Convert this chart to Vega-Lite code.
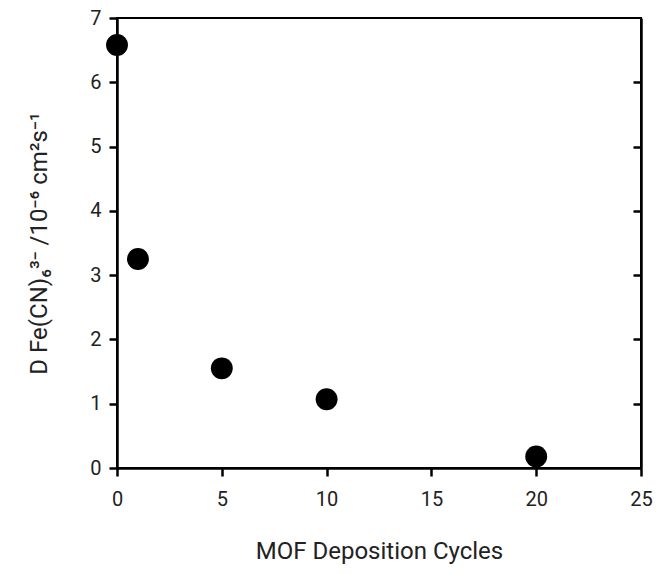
{
  "$schema": "https://vega.github.io/schema/vega-lite/v6.json",
  "width": 524,
  "height": 450,
  "autosize": {"type": "none"},
  "padding": {"left": 117, "top": 18, "right": 18, "bottom": 106},
  "background": "white",
  "config": {
    "font": "Roboto",
    "view": {"stroke": "black", "strokeWidth": 2},
    "axis": {
      "domainColor": "black", "domainWidth": 2.5,
      "tickColor": "black", "tickWidth": 2.5, "tickSize": 8,
      "labelColor": "#222", "labelFont": "Roboto", "labelFontSize": 20, "labelFlush": false,
      "titleColor": "#222", "titleFont": "Roboto", "titleFontSize": 24, "titleFontWeight": "normal",
      "grid": false
    }
  },
  "data": {"values": [
    {"cycles": 0, "D": 6.58},
    {"cycles": 1, "D": 3.25},
    {"cycles": 5, "D": 1.55},
    {"cycles": 10, "D": 1.07},
    {"cycles": 20, "D": 0.18}
  ]},
  "resolve": {"axis": {"y": "independent"}},
  "layer": [
    {
      "mark": {"type": "point", "filled": true, "color": "black", "opacity": 1, "size": 480},
      "encoding": {
        "x": {"field": "cycles", "type": "quantitative",
              "scale": {"domain": [0, 25], "nice": false},
              "axis": {"values": [0, 5, 10, 15, 20, 25], "title": "MOF Deposition Cycles", "labelPadding": 13, "titlePadding": 30}},
        "y": {"field": "D", "type": "quantitative",
              "scale": {"domain": [0, 7], "nice": false},
              "axis": {"values": [0, 1, 2, 3, 4, 5, 6, 7], "title": "D Fe(CN)₆³⁻ /10⁻⁶ cm²s⁻¹", "titleFontStyle": "normal", "labelPadding": 8, "titlePadding": 38}}
      }
    },
    {
      "mark": {"type": "point", "opacity": 0},
      "encoding": {
        "x": {"field": "cycles", "type": "quantitative"},
        "y": {"field": "D", "type": "quantitative",
              "axis": {"orient": "right", "values": [1, 2, 3, 4, 5, 6], "labels": false, "title": null, "tickSize": -8}}
      }
    }
  ]
}
